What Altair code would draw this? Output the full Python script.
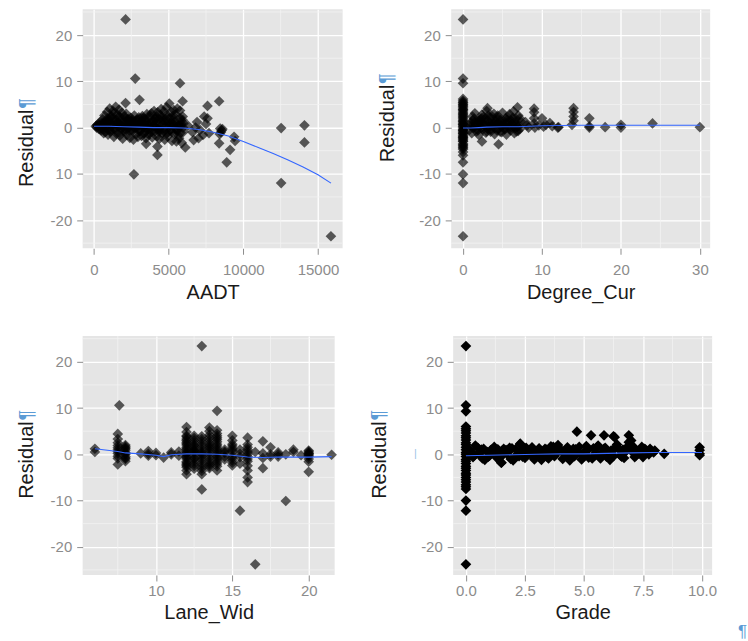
import altair as alt
import pandas as pd

# ---------------- data ----------------
# Panel 1: AADT vs residual
aadt = [
    120, 180, 250, 300, 350, 420, 480, 520, 580, 640,
    700, 760, 820, 880, 940, 990, 1050, 1100, 1160, 1220,
    1280, 1330, 1390, 1450, 1500, 1560, 1620, 1680, 1740, 1800,
    1860, 1920, 1980, 2040, 2100, 2160, 2220, 2280, 2340, 2400,
    2460, 2520, 2580, 2640, 2700, 2760, 2820, 2880, 2940, 3000,
    3060, 3120, 3180, 3240, 3300, 3360, 3420, 3480, 3540, 3600,
    3660, 3720, 3780, 3840, 3900, 3960, 4020, 4080, 4140, 4200,
    4260, 4320, 4380, 4440, 4500, 4560, 4620, 4680, 4740, 4800,
    4860, 4920, 4980, 5040, 5100, 5160, 5220, 5280, 5340, 5400,
    5460, 5520, 5580, 5640, 5700, 5760, 5820, 5880, 5940, 6000,
    200, 400, 600, 800, 1000, 1200, 1400, 1600, 1800, 2000,
    2200, 2400, 2600, 2800, 3000, 3200, 3400, 3600, 3800, 4000,
    4200, 4400, 4600, 4800, 5000, 5200, 5400, 5600, 5800, 5950,
    650, 1050, 1450, 1850, 2250, 2650, 3050, 3450, 3850, 4250,
    4650, 5050, 5450, 5850, 900, 1700, 2500, 3300, 4100, 4900,
    2113, 2760, 5760, 3047, 2113, 5933, 8380, 7600, 7378, 2673,
    12533, 15867, 12533, 14093, 14093, 9113, 8887, 4247, 4247, 3493,
    6113, 6673, 8380, 9447, 9380, 8450, 8550, 8500, 8420, 8600,
    6300, 6600, 6900, 7100, 7300, 7500, 7700, 7000, 7600, 6800,
]
aadt_resid = [
    0.3, 0.0, 0.7, -0.2, 0.4, 1.2, -0.6, 0.9, 1.8, -0.4,
    2.6, -1.0, 0.3, 3.4, -1.5, 1.6, 4.1, -0.8, 2.3, 0.5,
    3.6, -2.0, 1.1, 4.5, -1.3, 2.8, 0.2, 3.9, -1.7, 1.4,
    3.2, -2.4, 0.6, 2.4, -0.9, 3.0, -1.6, 1.9, 0.1, -2.2,
    2.1, -0.5, 1.3, -2.6, 2.6, 0.4, -1.4, 1.7, -2.0, 2.2,
    -0.7, 1.0, -1.8, 2.5, 0.3, -1.1, 1.9, -2.3, 2.9, 0.6,
    -1.5, 2.3, -0.3, 3.1, -2.1, 1.2, 3.6, -0.8, 2.0, -1.9,
    3.3, 0.8, -2.4, 2.7, 4.0, -1.2, 1.5, 3.5, -2.6, 0.2,
    4.4, -1.9, 2.4, 5.2, -0.6, 3.4, -2.9, 1.1, 3.8, -1.4,
    2.8, -3.0, 4.1, 0.5, -2.3, 3.7, 1.6, -3.3, 2.4, -0.9,
    0.5, -0.3, 0.9, 1.4, 0.2, 1.9, -0.5, 1.0, 0.6, 1.2,
    0.3, 1.1, -0.6, 0.8, -0.2, 1.4, 0.0, -0.4, 1.0, 0.5,
    1.3, -0.5, 0.7, 1.8, 0.1, -0.9, 1.2, 0.4, -1.1, 1.6,
    -1.2, -0.4, 0.8, -0.2, 1.6, 0.1, 0.7, 1.3, -0.9, -0.3,
    -0.8, 2.0, -0.2, 0.8, 2.0, 2.4, 1.4, 2.0, 1.8, 1.0,
    23.4, 10.6, 9.6, 6.0, 5.3, 5.7, 5.7, 4.7, 2.4, -10.1,
    -12.0, -23.5, -0.1, 0.5, -3.2, -4.8, -7.5, -5.9, -4.1, -3.5,
    -4.3, -2.7, -3.4, -2.9, -2.0, -0.2, -0.6, -1.0, -1.4, -0.3,
    0.4, -1.0, 1.2, -0.5, -1.6, 0.8, -1.2, -2.3, 2.0, 0.0,
]
# extra observations in the dense core of the AADT cloud
aadt_core = [
    330, 560, 780, 1020, 1240, 1470, 1690, 1930, 2150, 2380,
    2610, 2830, 3070, 3290, 3520, 3740, 3970, 4190, 4420, 4640,
    4870, 5090, 5320, 5540, 5770, 5990, 450, 950, 1350, 1750,
    2150, 2550, 2950, 3350, 3750, 4150, 4550, 4950, 5350, 5750,
    760, 1160, 1560, 1960, 2360, 2760, 3160, 3560, 3960, 4360,
    4760, 5160, 5560, 5960, 1300, 2300, 3300, 4300, 5300, 5650,
]
aadt_core_resid = [
    0.6, -0.2, 1.1, -0.7, 0.4, 1.7, -1.0, 0.2, 2.0, -0.6,
    0.9, 1.5, -0.8, 0.1, 1.2, -1.1, 0.5, 2.4, -0.3, 1.0,
    -1.3, 0.7, 1.9, -0.5, 0.3, 0.9, 0.1, 1.2, -0.2, 2.1,
    -0.4, 1.8, 0.5, -1.3, 2.6, 0.0, 2.2, -1.0, 0.6, 2.1,
    0.8, 2.5, 0.9, -0.6, 0.7, -0.1, 2.0, 0.2, 1.5, -0.9,
    2.5, 1.0, -0.7, 0.0, 3.0, 1.1, 0.9, 1.9, 2.6, -1.8,
]
aadt_fit_x = [0, 1000, 2000, 3000, 4000, 5000, 6000, 7000, 8000, 9000,
              10000, 11000, 12000, 13000, 14000, 15000, 15870]
aadt_fit_y = [0.3, 0.3, 0.2, 0.1, 0.0, 0.0, -0.1, -0.4, -1.0, -1.8,
              -3.0, -4.3, -5.6, -7.0, -8.5, -10.2, -12.0]

# Panel 2: Degree_Cur vs residual
degree = [
    0, 0, 0, 0, 0, 0, 0, 0, 0, 0,
    0, 0, 0, 0, 0, 0, 0, 0, 0, 0,
    0, 0, 0, 0, 0, 0, 0, 0, 0, 0,
    0, 0, 0, 0, 0, 0, 0, 0, 0, 0,
    0.9, 1.1, 1.2, 1.4, 1.5, 1.7, 1.9, 2.0, 2.2, 2.4,
    2.5, 2.7, 2.9, 3.0, 3.2, 3.4, 3.5, 3.7, 3.9, 4.0,
    4.2, 4.4, 4.5, 4.7, 4.9, 5.0, 5.2, 5.4, 5.5, 5.7,
    5.9, 6.0, 6.2, 6.4, 6.5, 6.7, 6.9, 7.0, 7.2, 7.3,
    1.0, 1.6, 2.3, 3.1, 3.8, 4.6, 5.3, 6.1, 6.8, 7.1,
    1.3, 2.1, 2.8, 3.6, 4.3, 5.1, 5.8, 6.6, 2.4, 4.5,
    3.1, 6.9, 7.9, 8.1, 8.3, 9.0, 9.0, 9.0, 9.0, 9.1,
    9.6, 10.0, 10.2, 10.5, 11.0, 11.3, 12.0, 12.1, 13.8, 14.0,
    14.0, 14.0, 14.0, 16.0, 16.0, 16.0, 18.0, 20.0, 20.0, 24.0,
    30.0,
]
degree_resid = [
    23.4, 10.6, 9.6, 6.2, 5.8, 5.3, 4.9, 4.4, 4.0, 3.7,
    3.1, 2.7, 2.2, 1.9, 1.4, 0.9, 0.6, 0.1, -0.3, -0.8,
    -1.1, -1.7, -2.1, -2.6, -3.0, -3.5, -3.9, -4.4, -4.7, -5.3,
    -6.0, -7.5, -10.1, -12.0, -23.5, 3.4, 1.2, -0.5, -1.4, -2.4,
    0.5, -1.2, 2.4, 0.1, 3.1, -0.8, 1.5, -1.6, 0.9, 2.8,
    -0.4, 1.8, -1.1, 3.6, 0.3, 2.2, -0.9, 1.2, 3.0, -1.4,
    0.7, 2.6, -0.2, 1.6, -1.0, 3.2, 0.4, 2.0, -1.5, 1.1,
    2.9, -0.6, 0.8, 3.5, -1.2, 1.9, 0.2, 2.6, -0.3, 1.3,
    1.0, 0.7, 0.0, -0.2, 0.6, 0.9, -0.4, 1.5, -0.8, 0.4,
    -0.1, 1.3, 1.0, 0.4, -0.6, 1.4, 0.0, -0.1, -3.0, -3.6,
    4.2, 4.4, 1.2, 0.5, 0.0, 4.1, 3.3, 2.0, 0.9, 0.0,
    0.5, 2.0, 0.2, 0.6, 1.0, 0.3, 0.0, 0.1, 0.6, 1.5,
    2.4, 3.4, 4.2, 0.0, 0.3, 2.0, 0.1, 0.0, 0.6, 0.9,
    0.1,
]
degree_core = [
    1.1, 1.5, 1.9, 2.3, 2.7, 3.1, 3.5, 3.9, 4.3, 4.7,
    5.1, 5.5, 5.9, 6.3, 6.7, 7.0, 1.4, 2.0, 2.6, 3.3,
    4.0, 4.8, 5.6, 6.4, 7.2, 1.8, 2.5, 3.2, 4.1, 4.9,
    5.7, 6.5, 0.8, 1.2, 2.2, 3.0, 3.7, 4.4, 5.2, 6.0,
    0, 0, 0, 0, 0, 0, 0, 0, 0, 0,
    0, 0, 0, 0, 0, 0,
]
degree_core_resid = [
    0.3, 1.2, -0.6, 2.0, 0.5, 1.6, -0.4, 0.8, 2.2, -0.9,
    0.6, 1.0, -0.2, 2.1, 0.7, -0.7, 1.9, 0.4, 2.3, 1.1,
    -0.1, 0.3, 1.7, 0.5, 2.0, -0.3, 1.0, 2.6, 1.4, 0.6,
    2.3, 1.2, -0.5, 1.5, 1.8, -0.8, 2.4, 1.8, -0.2, 0.2,
    5.5, 4.6, 3.9, 2.4, 1.6, 0.3, -0.6, -1.9, -2.9, -3.7,
    -4.2, 5.0, 2.9, 0.7, -1.2, -2.2,
]
degree_fit_x = [0, 1, 2, 3, 5, 7, 10, 15, 20, 25, 30]
degree_fit_y = [-0.1, -0.1, 0.0, 0.1, 0.2, 0.2, 0.4, 0.5, 0.5, 0.5, 0.5]

# Panel 3: Lane_Wid vs residual
lane = [
    6.0, 6.0, 7.5, 7.5, 7.5, 7.5, 7.5, 7.5, 7.5, 7.6,
    8.0, 8.0, 8.0, 8.0, 8.0, 8.0, 8.0, 8.0, 9.0, 9.5,
    9.5, 9.5, 10.0, 10.0, 10.5, 11.0, 11.0, 11.5, 11.5, 12.0,
    12.0, 12.0, 12.0, 12.0, 12.0, 12.0, 12.0, 12.0, 12.0, 12.0,
    12.0, 12.0, 12.0, 12.0, 12.0, 12.0, 12.5, 12.5, 12.5, 12.5,
    12.5, 12.5, 12.5, 12.5, 12.5, 12.5, 13.0, 13.0, 13.0, 13.0,
    13.0, 13.0, 13.0, 13.0, 13.0, 13.0, 13.0, 13.5, 13.5, 13.5,
    13.5, 13.5, 13.5, 13.5, 13.5, 13.5, 13.5, 14.0, 14.0, 14.0,
    14.0, 14.0, 14.0, 14.0, 14.0, 14.0, 14.0, 14.0, 14.0, 14.5,
    14.5, 14.5, 14.5, 14.5, 15.0, 15.0, 15.0, 15.0, 15.0, 15.0,
    15.0, 15.0, 15.5, 15.5, 15.5, 15.5, 15.5, 16.0, 16.0, 16.0,
    16.0, 16.0, 16.0, 16.0, 16.0, 16.0, 16.5, 16.5, 17.0, 17.0,
    17.0, 17.0, 17.5, 17.5, 17.5, 18.0, 18.0, 18.0, 18.5, 18.5,
    19.0, 19.0, 19.5, 20.0, 20.0, 20.0, 20.0, 20.0, 20.0, 21.5,
]
lane_resid = [
    1.2, 0.5, 4.4, 2.5, 1.9, 1.4, 0.6, -0.9, -2.2, 10.6,
    2.0, 1.4, 0.9, 0.4, 0.0, -0.5, -1.0, -1.5, 0.2, 0.7,
    0.1, -0.3, 0.3, -0.2, -0.7, 0.0, 0.4, 0.6, -0.3, 5.9,
    4.8, 4.0, 3.3, 2.6, 2.0, 1.5, 1.0, 0.5, 0.0, -0.5,
    -1.0, -1.6, -2.2, -2.8, -3.5, -4.3, 4.0, 2.5, 1.4, 0.3,
    -0.8, -2.0, -3.1, 3.0, -1.5, 0.8, 23.4, 3.9, 2.8, 1.7,
    0.6, -0.4, -1.3, -2.5, -3.6, -4.3, -7.6, 5.8, 5.0, 3.6,
    2.0, 0.9, -0.2, -1.4, -3.0, -2.2, 1.3, 9.4, 5.2, 4.5,
    3.6, 2.7, 1.8, 0.9, 0.1, -0.8, -1.7, -2.6, -3.5, 1.0,
    0.3, -0.5, -1.1, 0.6, 4.0, 2.2, 1.3, 0.5, -0.4, -1.3,
    -2.4, 1.8, -12.2, -2.0, 0.1, 1.0, -0.6, 3.6, 2.1, 1.0,
    0.0, -1.0, -2.5, -3.5, -5.0, -6.0, -23.8, 0.5, 2.8, -0.8,
    -3.0, 0.2, 1.5, 0.0, -0.5, 0.0, -0.5, 0.4, -10.1, 0.0,
    1.0, 0.5, -0.2, 0.6, 0.0, -0.5, -1.6, -3.8, 0.3, -0.1,
]
lane_core = [
    12.0, 12.0, 12.0, 12.0, 12.0, 12.0, 12.0, 12.0,
    12.5, 12.5, 12.5, 12.5, 12.5, 12.5, 12.5, 12.5,
    13.0, 13.0, 13.0, 13.0, 13.0, 13.0, 13.0, 13.0,
    13.5, 13.5, 13.5, 13.5, 13.5, 13.5, 13.5, 13.5,
    14.0, 14.0, 14.0, 14.0, 14.0, 14.0, 14.0, 14.0,
    7.5, 7.5, 7.5, 7.5, 8.0, 8.0, 8.0, 8.0,
    15.0, 15.0, 15.0, 15.0, 16.0, 16.0, 16.0, 16.0,
    20.0, 20.0, 20.0, 20.0,
]
lane_core_resid = [
    3.8, 2.3, 1.2, 0.2, -0.7, -1.9, -2.5, 3.0,
    2.0, 1.0, -0.2, -1.0, -2.5, 3.5, 0.6, 1.8,
    3.3, 2.2, 1.1, 0.0, -0.9, -2.0, -3.0, 0.3,
    3.0, 2.4, 1.6, 0.4, -0.7, -1.8, -2.6, 4.2,
    3.2, 2.2, 1.3, 0.5, -0.4, -1.2, -2.1, 4.0,
    1.0, 0.2, -0.4, 3.3, 1.7, 1.2, 0.2, -0.8,
    3.0, 0.9, -0.8, -1.8, 1.5, 0.5, -0.5, -1.5,
    0.2, -0.2, -1.0, 0.8,
]
lane_fit_x = [6, 7.5, 8, 9, 10, 10.5, 11, 12, 13, 14, 15, 16, 17, 18, 19, 20, 21.5]
lane_fit_y = [1.2, 0.6, 0.3, 0.1, -0.2, -0.5, -0.1, 0.1, 0.1, 0.0, -0.2, -0.6, -0.7, -0.6, -0.6, -0.6, -0.5]

# Panel 4: Grade vs residual
grade = [
    0, 0, 0, 0, 0, 0, 0, 0, 0, 0,
    0, 0, 0, 0, 0, 0, 0, 0, 0, 0,
    0, 0, 0, 0, 0, 0, 0, 0, 0, 0,
    0, 0, 0, 0,
    0.1, 0.3, 0.5, 0.7, 0.9, 1.1, 1.3, 1.5, 1.7, 1.9,
    2.1, 2.3, 2.5, 2.7, 2.9, 3.1, 3.3, 3.5, 3.7, 3.9,
    4.1, 4.3, 4.5, 4.7, 4.9, 5.1, 5.3, 5.5, 5.7, 5.9,
    6.1, 6.3, 6.5, 6.7, 6.9, 7.1, 7.3, 7.5, 7.8, 8.0,
    0.2, 0.6, 1.0, 1.4, 1.8, 2.2, 2.6, 3.0, 3.4, 3.8,
    4.2, 4.6, 5.0, 5.4, 5.8, 6.2, 6.6, 7.0, 7.4, 8.4,
    5.85, 6.25, 6.9, 0.4, 0.8, 1.2, 1.6, 2.0, 2.4, 2.8,
    3.2, 3.6, 4.0, 4.4, 4.8, 5.2, 5.6, 6.0, 6.4, 6.8,
    7.2, 7.6, 9.9, 9.9, 9.9, 9.9, 1.5, 2.3,
]
grade_resid = [
    23.4, 10.6, 9.3, 6.0, 5.5, 5.1, 4.6, 4.0, 3.6, 3.1,
    2.5, 2.1, 1.5, 1.0, 0.4, 0.0, -0.5, -1.1, -1.5, -2.0,
    -2.6, -3.0, -3.5, -4.1, -4.5, -5.0, -6.0, -7.5, -10.0, -12.2,
    -23.8, -5.5, -6.6, -7.0,
    0.8, -0.6, 1.4, -0.9, 0.5, 1.0, -0.7, -1.8, 0.9, -1.0,
    1.1, 2.3, -0.8, 0.7, -1.1, 1.3, 0.2, -0.9, 1.6, 2.0,
    -1.0, 1.5, 0.4, 4.9, -1.1, 1.8, 4.1, 0.3, -0.9, 1.4,
    -1.2, 3.7, 1.0, -0.8, 4.1, 1.6, 0.2, -0.6, 1.2, 0.8,
    -0.2, 0.4, -0.3, 0.6, -0.2, 0.1, 0.9, -0.3, 1.0, 0.0,
    0.6, -0.4, 0.2, 1.3, 0.0, 0.7, -0.5, 3.0, 0.9, 0.1,
    4.1, 3.9, 2.6, 1.9, -1.2, 1.6, 1.2, -1.3, -0.5, 1.5,
    -1.2, 1.7, 1.1, -1.3, 1.6, -0.7, 1.9, 0.5, 2.1, 1.4,
    -0.3, 1.1, 1.5, 0.9, 0.1, -0.2, -1.8, 2.2,
]
grade_core = [
    0.15, 0.35, 0.55, 0.75, 0.95, 1.15, 1.35, 1.55, 1.75, 1.95,
    2.15, 2.35, 2.55, 2.75, 2.95, 3.15, 3.35, 3.55, 3.75, 3.95,
    4.15, 4.35, 4.55, 4.75, 4.95, 5.15, 5.35, 5.55, 5.75, 5.95,
    6.15, 6.35, 6.55, 6.75, 6.95, 7.15, 7.35, 7.55, 7.75, 7.95,
    0.25, 0.65, 1.05, 1.45, 1.85, 2.25, 2.65, 3.05, 3.45, 3.85,
    4.25, 4.65, 5.05, 5.45, 5.85, 6.25, 6.65, 7.05, 7.45, 7.85,
]
grade_core_resid = [
    1.0, -0.3, 0.2, 1.2, -0.5, 0.3, 1.1, -0.2, 0.5, 1.3,
    -0.4, 0.6, 1.4, -0.1, 0.4, -0.8, 1.2, 0.7, -0.4, 1.0,
    0.1, -0.7, 1.2, 0.6, -0.2, 0.9, -0.9, 1.5, 0.3, -0.5,
    0.8, 1.6, -0.3, 0.5, 1.1, -0.6, 0.7, 1.2, 0.0, 0.4,
    0.4, 1.0, 0.9, -0.5, 1.4, -0.4, 0.2, 0.8, -0.6, 1.3,
    -0.2, 1.1, 0.6, -0.3, 1.2, -0.4, 1.0, 0.5, 1.6, 0.7,
]
grade_fit_x = [0, 1, 2, 3, 4, 5, 6, 7, 8, 9, 10]
grade_fit_y = [-0.3, -0.2, -0.1, 0.0, 0.1, 0.1, 0.2, 0.3, 0.4, 0.4, 0.4]

# axes
y_ticks = [-20, -10, 0, 10, 20]
y_minor = [-25, -15, -5, 5, 15, 25]
aadt_ticks, aadt_minor = [0, 5000, 10000, 15000], [2500, 7500, 12500]
degree_ticks, degree_minor = [0, 10, 20, 30], [5, 15, 25]
lane_ticks, lane_minor = [10, 15, 20], [7.5, 12.5, 17.5]
grade_ticks, grade_minor = [0, 2.5, 5, 7.5, 10], [1.25, 3.75, 6.25, 8.75]

# ---------------- style ----------------
FONT = "Liberation Sans"
BG = "#E5E5E5"
MINOR = "#F2F2F2"
LABEL = "#8C8C8C"
TICK = "#8C8C8C"
TITLE = "#1A1A1A"
PILCROW = "#5B9BD5"
Y_DOMAIN = [-26.1, 25.6]
H = 240
RES_W = 78  # approx. pixel length of "Residual" at 20px
MINUS_FIX = "replace(datum.label, '\u2212', '-')"


def panel(xs, ys, fx, fy, name, xdomain, xticks, xminor, width, opacity,
          title_x, title_y, label_expr=MINUS_FIX, xfmt="d", label_pad=8,
          xtitle_y=50, extras=()):
    pts = pd.DataFrame({"x": xs, "y": ys})
    fit = pd.DataFrame({"x": fx, "y": fy})
    xscale = alt.Scale(domain=xdomain, nice=False, zero=False)
    yscale = alt.Scale(domain=Y_DOMAIN, nice=False, zero=False)

    xaxis = alt.Axis(
        values=xticks, title=name, format=xfmt, grid=True, gridColor="white",
        gridWidth=1.3, domain=False, tickColor=TICK, tickSize=6, tickWidth=1,
        labelColor=LABEL, labelFont=FONT, labelFontSize=15,
        labelPadding=label_pad,
        titleFont=FONT, titleFontSize=20, titleFontWeight="normal",
        titleColor=TITLE, titleX=width / 2, titleY=xtitle_y,
        titleAlign="center", titleBaseline="alphabetic",
    )
    yaxis = alt.Axis(
        values=y_ticks, title="Residual", grid=True, gridColor="white",
        gridWidth=1.3, domain=False, tickColor=TICK, tickSize=6, tickWidth=1,
        labelColor=LABEL, labelFont=FONT, labelFontSize=15, labelPadding=5,
        labelExpr=label_expr,
        titleFont=FONT, titleFontSize=20, titleFontWeight="normal",
        titleColor=TITLE, titleAngle=270, titleAlign="left",
        titleBaseline="alphabetic", titleX=title_x, titleY=title_y,
    )

    # every layer carries the same axis definitions so that the shared axis
    # is merged (an axis=None in one layer would disable it)
    minor_x = alt.Chart(pd.DataFrame({"v": xminor})).mark_rule(
        color=MINOR, strokeWidth=0.8
    ).encode(x=alt.X("v:Q", scale=xscale, axis=xaxis))
    minor_y = alt.Chart(pd.DataFrame({"v": y_minor})).mark_rule(
        color=MINOR, strokeWidth=0.8
    ).encode(y=alt.Y("v:Q", scale=yscale, axis=yaxis))
    points = alt.Chart(pts).mark_point(
        shape="diamond", filled=True, size=115, color="black",
        opacity=opacity
    ).encode(
        x=alt.X("x:Q", scale=xscale, axis=xaxis),
        y=alt.Y("y:Q", scale=yscale, axis=yaxis),
    )
    line = alt.Chart(fit).mark_line(color="#3366FF", strokeWidth=1.1).encode(
        x=alt.X("x:Q", scale=xscale, axis=xaxis),
        y=alt.Y("y:Q", scale=yscale, axis=yaxis),
    )
    pil = alt.Chart(pd.DataFrame({"t": ["\u00b6"]})).mark_text(
        font=FONT, fontSize=20, color=PILCROW, angle=270, align="left",
        baseline="alphabetic"
    ).encode(text="t:N", x=alt.value(title_x), y=alt.value(title_y - RES_W))
    layers = [minor_x, minor_y, points, line, pil] + list(extras)
    return alt.layer(*layers).properties(width=width, height=H)


p1 = panel(aadt + aadt_core, aadt_resid + aadt_core_resid,
           aadt_fit_x, aadt_fit_y, "AADT", [-760, 16650],
           aadt_ticks, aadt_minor, 261, 0.63, -50, 178,
           label_expr="datum.value == -10 ? '10' : " + MINUS_FIX)
p2 = panel(degree + degree_core, degree_resid + degree_core_resid,
           degree_fit_x, degree_fit_y, "Degree_Cur",
           [-1.5, 31.3], degree_ticks, degree_minor, 260, 0.63, -58, 153)
p3 = panel(lane + lane_core, lane_resid + lane_core_resid,
           lane_fit_x, lane_fit_y, "Lane_Wid", [5.2, 21.7],
           lane_ticks, lane_minor, 253, 0.63, -50, 163,
           label_pad=3, xtitle_y=44)

stray = alt.Chart(pd.DataFrame({"t": ["|"]})).mark_text(
    font=FONT, fontSize=11, color="#9CC2E5"
).encode(text="t:N", x=alt.value(-38), y=alt.value(119))
corner = alt.Chart(pd.DataFrame({"t": ["\u00b6"]})).mark_text(
    font=FONT, fontSize=17, color=PILCROW, align="left", baseline="alphabetic"
).encode(text="t:N", x=alt.value(286), y=alt.value(302))

p4 = panel(grade + grade_core, grade_resid + grade_core_resid,
           grade_fit_x, grade_fit_y, "Grade",
           [-0.54, 10.43], grade_ticks, grade_minor, 260, 1.0, -68, 163,
           xfmt=".1f", label_pad=3, xtitle_y=44, extras=(stray, corner))

row1 = alt.hconcat(p1, p2, spacing=34)
row2 = alt.hconcat(p3, p4, spacing=32)
chart = alt.vconcat(row1, row2, spacing=33).properties(
    padding={"left": 17, "top": 7, "right": 0, "bottom": 0},
    background="white",
).configure_view(fill=BG, stroke=None)

chart.save("out.html", embed_options={"renderer": "svg", "actions": False})
